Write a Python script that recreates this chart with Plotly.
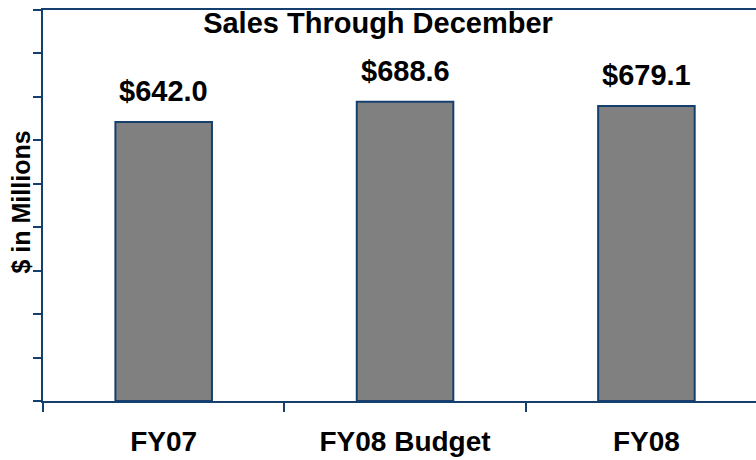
import plotly.graph_objects as go

categories = ["FY07", "FY08 Budget", "FY08"]
sales = [642.0, 688.6, 679.1]
title_text = "Sales Through December"
y_title = "$ in Millions"

FONT = "Liberation Sans, Arial, sans-serif"
NAVY = "#15406E"

fig = go.Figure()
fig.add_trace(go.Bar(
    x=categories, y=sales, width=0.4,
    marker=dict(color="#808080", line=dict(color=NAVY, width=2)),
    hoverinfo="skip",
))

for c, v in zip(categories, sales):
    fig.add_annotation(
        x=c, y=v, text=f"${v:.1f}", showarrow=False,
        yanchor="bottom", yshift=13,
        font=dict(family=FONT, size=29, color="black", weight="bold"),
    )

fig.add_annotation(
    xref="paper", yref="paper", x=-0.031, y=0.51, text=y_title,
    textangle=-90, showarrow=False, xanchor="center", yanchor="middle",
    font=dict(family=FONT, size=25, color="black", weight="bold"),
)

fig.update_layout(
    width=756, height=460,
    margin=dict(l=43, r=0, t=10, b=59),
    paper_bgcolor="white", plot_bgcolor="white",
    showlegend=False,
    title=dict(text=title_text, xref="container", x=0.5, xanchor="center",
               yref="container", y=1 - 23 / 460, yanchor="middle",
               font=dict(family=FONT, size=29, color="black", weight="bold")),
    xaxis=dict(range=[-0.5, 2.454], showgrid=False, zeroline=False,
               showline=True, linecolor=NAVY, linewidth=2, mirror=True,
               ticks="outside", tickson="boundaries", ticklen=9, tickwidth=2,
               tickcolor=NAVY, ticklabelstandoff=14,
               tickfont=dict(family=FONT, size=28, color="black", weight="bold")),
    yaxis=dict(range=[0, 900], dtick=100, showgrid=False, zeroline=False,
               showline=True, linecolor=NAVY, linewidth=2,
               ticks="outside", ticklen=8, tickwidth=2, tickcolor=NAVY,
               showticklabels=False),
)

fig.write_html("out.html", config={"displayModeBar": False},
               post_script="document.body.style.margin='0';")
